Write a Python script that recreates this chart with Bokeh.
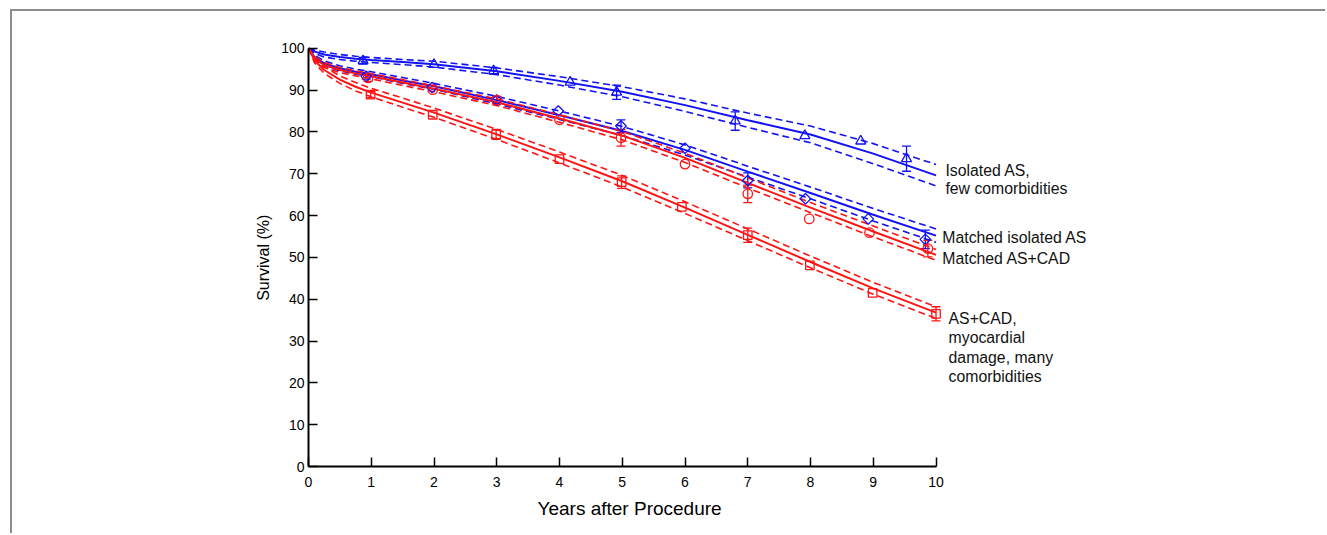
import numpy as np
from bokeh.plotting import figure
from bokeh.models import (Range1d, FixedTicker, Label, Whisker, TeeHead,
                          ColumnDataSource, Title)
from bokeh.embed import file_html
from bokeh.resources import INLINE

# ---------------- data ----------------
T_CURVE = [0, 0.1, 0.25, 0.5, 0.75, 1, 1.5, 2, 3, 4, 5, 6, 7, 8, 9, 10]

iso_fit = [100, 99.2, 98.5, 97.9, 97.5, 97.2, 96.7, 96.2, 94.5, 92.2, 89.6, 86.4, 82.8, 79.4, 74.8, 69.6]
iso_up  = [100, 99.6, 99.1, 98.5, 98.1, 97.8, 97.3, 96.9, 95.3, 93.2, 90.8, 87.9, 84.5, 81.4, 77.2, 72.2]
iso_lo  = [100, 98.8, 97.9, 97.3, 96.9, 96.6, 96.1, 95.5, 93.7, 91.2, 88.4, 84.9, 81.1, 77.4, 72.4, 67.1]

miso_fit = [100, 97.8, 96.4, 95.2, 94.4, 93.8, 92.3, 90.9, 87.6, 84.0, 80.2, 75.7, 70.5, 65.4, 60.2, 55.2]
miso_up  = [100, 98.3, 97.0, 95.8, 95.0, 94.4, 93.0, 91.6, 88.5, 85.0, 81.3, 76.9, 71.8, 66.8, 61.7, 56.8]
miso_lo  = [100, 97.3, 95.8, 94.6, 93.8, 93.2, 91.6, 90.2, 86.7, 83.0, 79.1, 74.5, 69.2, 64.0, 58.7, 53.6]

mcad_fit = [100, 97.5, 96.0, 94.8, 94.0, 93.3, 91.8, 90.3, 87.1, 83.2, 79.1, 73.8, 67.8, 61.9, 56.2, 50.6]
mcad_up  = [100, 98.0, 96.6, 95.4, 94.6, 93.9, 92.5, 91.0, 87.9, 84.1, 80.1, 74.9, 69.0, 63.1, 57.5, 51.9]
mcad_lo  = [100, 97.0, 95.4, 94.2, 93.4, 92.7, 91.1, 89.6, 86.3, 82.3, 78.1, 72.7, 66.6, 60.7, 54.9, 49.3]

cad_fit = [100, 97.0, 94.8, 92.5, 90.8, 89.4, 87.0, 84.6, 79.4, 73.9, 68.2, 61.9, 55.4, 48.9, 42.6, 36.8]
cad_up  = [100, 97.6, 95.6, 93.4, 91.8, 90.4, 88.1, 85.7, 80.6, 75.2, 69.6, 63.3, 56.8, 50.3, 44.0, 38.2]
cad_lo  = [100, 96.4, 94.0, 91.6, 89.8, 88.4, 85.9, 83.5, 78.2, 72.6, 66.8, 60.5, 54.0, 47.5, 41.2, 35.4]

# observed points
iso_t = [0.87, 2.0, 2.95, 4.17, 4.91, 6.80, 7.91, 8.80, 9.53]
iso_v = [97.0, 96.1, 94.6, 91.9, 89.5, 82.6, 79.1, 77.8, 73.6]
iso_err_t = [0.87, 2.95, 4.91, 6.80, 9.53]
iso_err_v = [97.0, 94.6, 89.5, 82.6, 73.6]
iso_err_e = [0.8, 0.8, 1.7, 2.2, 3.0]

miso_t = [0.92, 1.97, 3.0, 3.98, 4.98, 6.0, 7.0, 7.92, 8.92, 9.83]
miso_v = [93.3, 90.6, 87.6, 85.0, 81.4, 76.1, 68.4, 64.0, 59.2, 54.3]
miso_err_t = [0.92, 3.0, 4.98, 7.0, 9.83]
miso_err_v = [93.3, 87.6, 81.4, 68.4, 54.3]
miso_err_e = [0.7, 0.8, 1.5, 1.8, 2.2]

mcad_t = [0.95, 1.98, 3.0, 4.0, 4.98, 6.0, 7.0, 7.98, 8.94, 9.87]
mcad_v = [92.9, 90.1, 87.6, 82.9, 78.6, 72.3, 65.2, 59.2, 55.9, 52.1]
mcad_err_t = [0.95, 3.0, 4.98, 7.0, 9.87]
mcad_err_v = [92.9, 87.6, 78.6, 65.2, 52.1]
mcad_err_e = [0.8, 0.9, 2.0, 2.1, 2.0]

cad_t = [0.99, 1.98, 2.99, 4.0, 4.99, 5.95, 7.0, 7.99, 8.99, 10.0]
cad_v = [88.9, 84.1, 79.4, 73.5, 68.0, 62.1, 55.3, 48.1, 41.5, 36.5]
cad_err_t = [0.99, 2.99, 4.99, 7.0, 10.0]
cad_err_v = [88.9, 79.4, 68.0, 55.3, 36.5]
cad_err_e = [0.7, 1.2, 1.5, 1.7, 1.7]

X_TICKS = [0, 1, 2, 3, 4, 5, 6, 7, 8, 9, 10]
Y_TICKS = [0, 10, 20, 30, 40, 50, 60, 70, 80, 90, 100]

# ---------------- figure ----------------
BLUE = "#1212f5"
RED = "#ff1414"
FONT = "Liberation Sans"
GRAY = "#8c8c8c"

W, H = 1325, 533
p = figure(width=W, height=H, output_backend="svg", toolbar_location=None,
           x_range=Range1d(0, 12.908), y_range=Range1d(0, 100.9),
           min_border_left=308, min_border_right=W - 308 - 810,
           min_border_top=44, min_border_bottom=H - 466)
p.outline_line_color = None
p.grid.visible = False
p.background_fill_color = None
p.border_fill_color = None
# thin gray page frame (top and left edges), drawn behind the transparent canvas
p.styles = {
    "background": (f"linear-gradient({GRAY}, {GRAY}) 10px 9px / {W}px 2px no-repeat, "
                   f"linear-gradient({GRAY}, {GRAY}) 10px 9px / 2px {H}px no-repeat, white"),
}

for ax in (p.xaxis[0], p.yaxis[0]):
    ax.axis_line_width = 2
    ax.axis_line_color = "black"
    ax.major_tick_in = 9
    ax.major_tick_out = 0
    ax.minor_tick_line_color = None
    ax.major_tick_line_width = 1.5
    ax.major_label_text_font = FONT
    ax.major_label_text_font_size = "14px"
    ax.major_label_text_color = "black"
    ax.axis_label_text_font = FONT
    ax.axis_label_text_font_style = "normal"
    ax.axis_label_text_color = "black"

p.xaxis.ticker = FixedTicker(ticks=X_TICKS)
p.yaxis.ticker = FixedTicker(ticks=Y_TICKS)
p.xaxis.bounds = (0, 10)
p.yaxis.bounds = (0, 100)
p.yaxis.axis_label = "Survival  (%)"
p.yaxis.axis_label_text_font_size = "16px"
p.xaxis.major_label_standoff = 10
p.yaxis.major_label_standoff = 4
p.yaxis.axis_label_standoff = 6

# x-axis title, placed under the 0..10 span
p.add_layout(Title(text="Years after Procedure", align="left", offset=229,
                   text_font=FONT, text_font_size="19px", text_font_style="normal",
                   text_color="black", standoff=12), "below")

groups = [
    (iso_fit, iso_up, iso_lo, BLUE),
    (miso_fit, miso_up, miso_lo, BLUE),
    (mcad_fit, mcad_up, mcad_lo, RED),
    (cad_fit, cad_up, cad_lo, RED),
]
for fit, up, lo, col in groups:
    p.line(T_CURVE, up, line_color=col, line_width=1.6, line_dash="7 4")
    p.line(T_CURVE, lo, line_color=col, line_width=1.6, line_dash="7 4")
    p.line(T_CURVE, fit, line_color=col, line_width=2)

def add_err(t, v, e, col):
    src = ColumnDataSource(dict(x=t, up=[a + b for a, b in zip(v, e)],
                                lo=[a - b for a, b in zip(v, e)]))
    w = Whisker(base="x", upper="up", lower="lo", source=src, dimension="height",
                line_color=col, line_width=1.3,
                upper_head=TeeHead(size=9, line_color=col, line_width=1.3),
                lower_head=TeeHead(size=9, line_color=col, line_width=1.3))
    p.add_layout(w)

add_err(iso_err_t, iso_err_v, iso_err_e, BLUE)
add_err(miso_err_t, miso_err_v, miso_err_e, BLUE)
add_err(mcad_err_t, mcad_err_v, mcad_err_e, RED)
add_err(cad_err_t, cad_err_v, cad_err_e, RED)

p.scatter(iso_t, iso_v, marker="triangle", size=10, fill_color=None,
          line_color=BLUE, line_width=1.3)
p.scatter(miso_t, miso_v, marker="square", angle=np.pi / 4, size=7.5,
          fill_color=None, line_color=BLUE, line_width=1.3)
p.scatter(mcad_t, mcad_v, marker="circle", size=9.5, fill_color=None,
          line_color=RED, line_width=1.3)
p.scatter(cad_t, cad_v, marker="square", size=8.5, fill_color=None,
          line_color=RED, line_width=1.3)

labels = [
    ("Isolated AS,", 10.15, 70.85),
    ("few comorbidities", 10.15, 66.5),
    ("Matched isolated AS", 10.10, 54.8),
    ("Matched AS+CAD", 10.10, 49.8),
    ("AS+CAD,", 10.20, 35.4),
    ("myocardial", 10.20, 30.9),
    ("damage, many", 10.20, 26.1),
    ("comorbidities", 10.20, 21.5),
]
for txt, x, y in labels:
    p.add_layout(Label(x=x, y=y, text=txt, text_font=FONT, text_font_size="15.8px",
                       text_color="#111111", text_align="left",
                       text_baseline="middle"))

open("out.html", "w").write(file_html(p, INLINE))
